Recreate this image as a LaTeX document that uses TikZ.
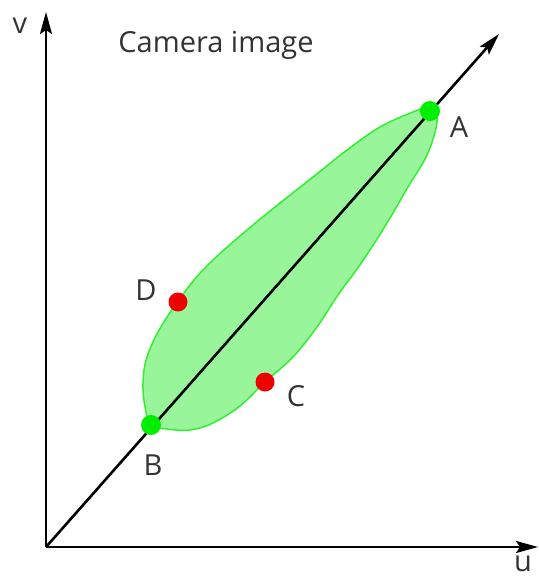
\documentclass[tikz,border=0pt]{standalone}
\usepackage{fontspec}
\setmainfont{Open Sans}
\usetikzlibrary{arrows.meta}
\definecolor{blobfill}{HTML}{99F599}
\definecolor{blobline}{HTML}{33EE33}
\definecolor{gdot}{HTML}{00EE00}
\definecolor{rdot}{HTML}{EE0000}
\tikzset{
  axis/.style={line width=2.2pt,-{Stealth[length=22pt,width=12pt,inset=4pt]}},
  greendot/.style={circle,fill=gdot,inner sep=0pt,minimum size=20pt},
  reddot/.style={circle,fill=rdot,inner sep=0pt,minimum size=19pt},
  lbl/.style={font=\fontsize{29}{32}\selectfont,text=black!80,inner sep=0pt},
  title/.style={font=\fontsize{29}{32}\selectfont,text=black!80,inner sep=0pt},
}
\begin{document}
\begin{tikzpicture}[x=1pt,y=-1pt]
\useasboundingbox (0,0) rectangle (538,580);
\coordinate (O) at (46,547);
\coordinate (vtip) at (46,12);
\coordinate (utip) at (538,547);
\coordinate (dtip) at (499,34);
% blob
\draw[fill=blobfill,draw=blobline,line width=1.5pt] plot[smooth cycle,tension=0.6] coordinates {
 (431,107) (413,112) (380,127) (347,150) (313,177) (280,203) (247,230) (213,260)
 (190,285) (162,325) (147,357) (143,383) (145,407) (151,425) (167,429) (190,430)
 (213,423) (240,406) (265,382) (293,357) (317,327) (338,295) (362,262) (387,223)
 (408,187) (427,155) (437,122)};
% axes
\draw[axis] (O) -- (vtip);
\draw[axis] (O) -- (utip);
\draw[axis,line width=2.6pt] (O) -- (dtip);
% points
\node[greendot] (A) at (430,111) {};
\node[greendot] (B) at (151,425) {};
\node[reddot] (C) at (265,382) {};
\node[reddot] (D) at (178,302) {};
% labels
\node[lbl] (lA) at (459,127) {A};
\node[lbl] (lB) at (153,465) {B};
\node[lbl] (lC) at (296,396) {C};
\node[lbl] (lD) at (146,290) {D};
\node[lbl,anchor=base] (lv) at (20,34) {v};
\node[lbl,anchor=base] (lu) at (523,571) {u};
\node[title] (cam) at (216,45) {Camera image};
\end{tikzpicture}
\end{document}
